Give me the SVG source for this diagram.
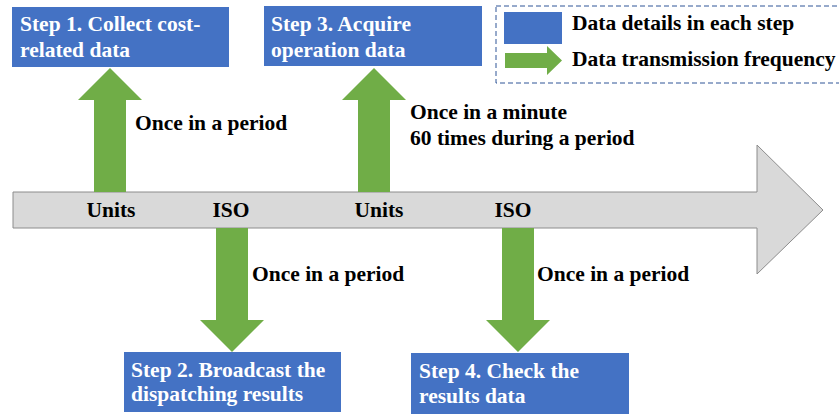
<svg xmlns="http://www.w3.org/2000/svg" width="839" height="414" viewBox="0 0 839 414">
<style>
.box{fill:#4472C4}
.arr{fill:#70AD47}
.wt{font-family:"Liberation Serif","Times New Roman",serif;font-weight:bold;font-size:21.5px;fill:#FFFFFF}
.bt{font-family:"Liberation Serif","Times New Roman",serif;font-weight:bold;font-size:21.5px;fill:#000000}
</style>
<rect width="839" height="414" fill="#FFFFFF"/>
<g id="timeline">
<path d="M13,192 H757 V145 L823,210 L757,274 V228 H13 Z" fill="#D9D9D9" stroke="#8C8C8C" stroke-width="1"/>
<text class="bt" x="111" y="217" text-anchor="middle">Units</text>
<text class="bt" x="231" y="217" text-anchor="middle">ISO</text>
<text class="bt" x="379" y="217" text-anchor="middle">Units</text>
<text class="bt" x="513" y="217" text-anchor="middle">ISO</text>
</g>
<g id="connectors">
<path class="arr" d="M94,192 V100 H78 L110,68 L142,100 H126 V192 Z"/>
<path class="arr" d="M358,192 V100 H342 L374,68 L406,100 H390 V192 Z"/>
<path class="arr" d="M216,228 V320 H200 L232,352 L264,320 H248 V228 Z"/>
<path class="arr" d="M502,228 V320 H486 L518,352 L550,320 H534 V228 Z"/>
<text class="bt" x="135" y="130">Once in a period</text>
<text class="bt" x="410" y="119">Once in a minute</text>
<text class="bt" x="410" y="145">60 times during a period</text>
<text class="bt" x="252" y="281">Once in a period</text>
<text class="bt" x="537" y="281">Once in a period</text>
</g>
<g id="step1">
<rect class="box" x="12" y="7" width="217" height="60"/>
<text class="wt" x="20" y="31">Step 1. Collect cost-</text>
<text class="wt" x="20" y="57">related data</text>
</g>
<g id="step3">
<rect class="box" x="264" y="6" width="218" height="60"/>
<text class="wt" x="271" y="31">Step 3. Acquire</text>
<text class="wt" x="271" y="57">operation data</text>
</g>
<g id="step2">
<rect class="box" x="124" y="352" width="217" height="60"/>
<text class="wt" x="131" y="377">Step 2. Broadcast the</text>
<text class="wt" x="131" y="401">dispatching results</text>
</g>
<g id="step4">
<rect class="box" x="411" y="353" width="218" height="61"/>
<text class="wt" x="419" y="378">Step 4. Check the</text>
<text class="wt" x="419" y="403">results data</text>
</g>
<g id="legend">
<rect x="496" y="6" width="350" height="77" fill="none" stroke="#2F5597" stroke-width="1" stroke-dasharray="5,3"/>
<rect class="box" x="504" y="12" width="58" height="32"/>
<path class="arr" d="M505,53 H547 V46 L562,60.5 L547,75 V68 H505 Z"/>
<text class="bt" x="572" y="30">Data details in each step</text>
<text class="bt" x="572" y="66">Data transmission frequency</text>
</g>
</svg>
